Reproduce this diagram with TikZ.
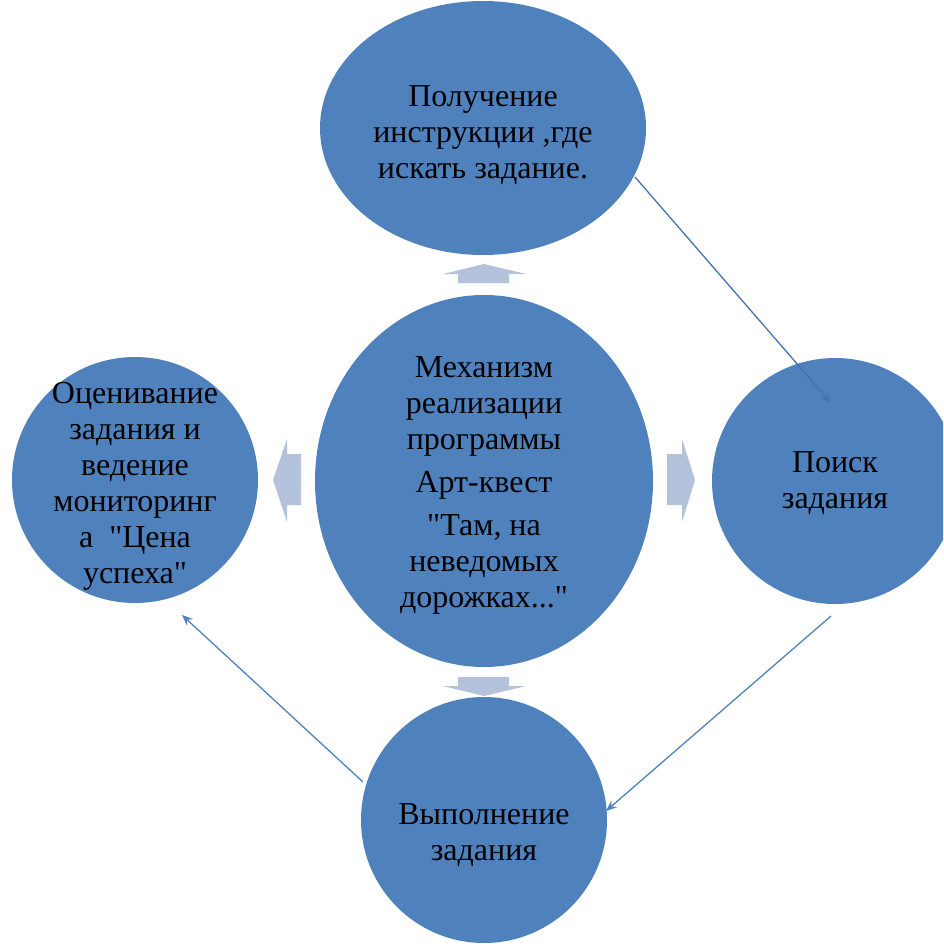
\documentclass[tikz,border=0pt]{standalone}
\usepackage{fontspec}
\setmainfont{Liberation Serif}[Ligatures=TeXOff]
\usetikzlibrary{arrows.meta,shapes.geometric}
\definecolor{circ}{RGB}{79,129,189}
\definecolor{blk}{RGB}{180,193,218}
\definecolor{lineover}{RGB}{70,115,175}
\tikzset{
  bub/.style={ellipse,fill=circ,draw=none,inner sep=0pt},
  txt/.style={align=center,font=\fontsize{32}{36}\selectfont,text=black,inner sep=0pt},
  conn/.style={draw=circ,line width=1.3pt,-{Stealth[length=11pt,width=9pt,inset=4pt]}},
  blkarrow/.style={fill=blk,draw=none}
}
\begin{document}
\begin{tikzpicture}[x=1pt,y=-1pt]
\useasboundingbox (0,0) rectangle (943,950);
\clip (0,0) rectangle (943,950);
% ellipses
\node[bub,minimum width=326pt,minimum height=254pt] (top) at (483,128) {};
\node[bub,minimum width=338pt,minimum height=372pt] (mid) at (484,481) {};
\node[bub,minimum width=246pt,minimum height=246pt] (lft) at (135,480) {};
\node[bub,minimum width=246pt,minimum height=246pt] (rgt) at (835,481) {};
\node[bub,minimum width=246pt,minimum height=246pt] (bot) at (484,820) {};
% texts
\node[txt] (ttop) at ([yshift=-7pt]top.center) {Получение\\инструкции ,где\\искать задание.};
\node[txt] (tmid) at ([yshift=-4pt]mid.center) {Механизм\\реализации\\программы\\[7pt]Арт-квест\\[7pt]"Там, на\\неведомых\\дорожках..."};
\node[txt] (tlft) at ([yshift=-6pt]lft.center) {Оценивание\\задания и\\ведение\\мониторинг\\а\ \ "Цена\\успеха"};
\node[txt] (trgt) at ([yshift=-2pt]rgt.center) {Поиск\\задания};
\node[txt] (tbot) at ([yshift=-15pt]bot.center) {Выполнение\\задания};
% block arrows
\fill[blkarrow] (458,283) -- (458,274) -- (443,274) -- (484,264) -- (526,274) -- (509,274) -- (509,283) -- cycle;
\fill[blkarrow] (458,677) -- (458,686) -- (443,686) -- (484,696) -- (526,686) -- (509,686) -- (509,677) -- cycle;
\fill[blkarrow] (301,454) -- (287,454) -- (287,439) -- (273,480) -- (287,522) -- (287,505) -- (301,505) -- cycle;
\fill[blkarrow] (667,454) -- (682,454) -- (682,439) -- (695,480) -- (682,522) -- (682,505) -- (667,505) -- cycle;
% connectors
\coordinate (a1) at (635,177);
\coordinate (a2) at (831,403);
\coordinate (b1) at (831,616);
\coordinate (b2) at (606,811);
\coordinate (c1) at (363,782);
\coordinate (c2) at (182,615);
\draw[conn,draw=lineover,fill=lineover] (a1) -- (a2);
\draw[conn] (b1) -- (b2);
\draw[conn] (c1) -- (c2);
\end{tikzpicture}
\end{document}
